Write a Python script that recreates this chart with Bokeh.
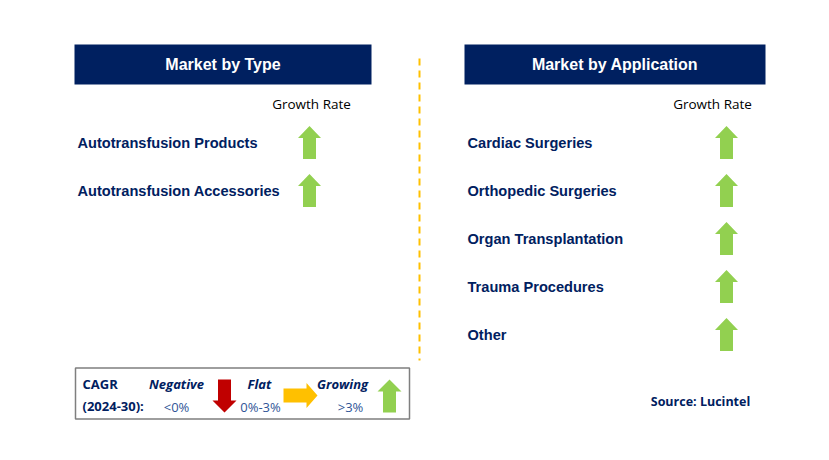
from bokeh.plotting import figure
from bokeh.models import Range1d
from bokeh.core.properties import value
from bokeh.embed import file_html
from bokeh.resources import INLINE

# ---- data ----
type_titles = ["Market by Type", "Market by Application"]
type_labels = ["Autotransfusion Products", "Autotransfusion Accessories"]
type_growth = ["up", "up"]
app_labels = ["Cardiac Surgeries", "Orthopedic Surgeries", "Organ Transplantation",
              "Trauma Procedures", "Other"]
app_growth = ["up", "up", "up", "up", "up"]
legend_names = ["Negative", "Flat", "Growing"]
legend_ranges = ["<0%", "0%-3%", ">3%"]
legend_dirs = ["down", "right", "up"]
source_text = "Source: Lucintel"

NAVY = "#002060"
COL = {"up": "#92D050", "down": "#C00000", "right": "#FFC000"}

W, H = 813, 444
p = figure(width=W, height=H, x_range=Range1d(0, W), y_range=Range1d(H, 0),
           output_backend="svg", toolbar_location=None, min_border=0)
p.axis.visible = False
p.grid.visible = False
p.outline_line_color = None
p.background_fill_color = "white"
p.border_fill_color = "white"


def arrow(cx, cy, d, L=33, Wd=23, sw=13, hh=12):
    t = -L / 2
    b = L / 2
    pts = [(0, t), (Wd / 2, t + hh), (sw / 2, t + hh), (sw / 2, b), (-sw / 2, b),
           (-sw / 2, t + hh), (-Wd / 2, t + hh)]
    if d == "down":
        pts = [(x, -y) for x, y in pts]
    elif d == "right":
        pts = [(-y, x) for x, y in pts]
    return [cx + x for x, y in pts], [cy + y for x, y in pts]


# headers
hx = [222.5, 614.5]
p.rect(x=hx, y=[64, 64], width=[297, 301], height=[40, 40], fill_color=NAVY, line_color=None)
p.text(x=hx, y=[64, 64], text=type_titles, text_color="white", text_font=value("Liberation Sans"),
       text_font_style="bold", text_font_size="16px", text_align="center", text_baseline="middle")

# divider
p.line(x=[419, 419], y=[58, 360], line_color="#FFC000", line_width=2, line_dash="7 5")

# growth rate headers
p.text(x=[311, 712], y=[103, 103], text=["Growth Rate", "Growth Rate"], text_color="black",
       text_font=value("Open Sans"), text_font_size="13.5px", text_align="center",
       text_baseline="middle")

ROW0, STEP = 142, 48


def section(labels, growth, lx, ax):
    ys = [ROW0 + i * STEP for i in range(len(labels))]
    p.text(x=[lx] * len(labels), y=ys, text=labels, text_color=NAVY,
           text_font=value("Liberation Sans"), text_font_style="bold", text_font_size="14.6px",
           text_align="left", text_baseline="middle")
    xs, yss, cs = [], [], []
    for g, y in zip(growth, ys):
        a, b = arrow(ax, y, g)
        xs.append(a); yss.append(b); cs.append(COL[g])
    p.patches(xs=xs, ys=yss, fill_color=cs, line_color=None)


section(type_labels, type_growth, 77, 309)
section(app_labels, app_growth, 467, 726)

# legend box
p.rect(x=[242], y=[393], width=[334], height=[51], fill_color=None, line_color="#7F7F7F",
       line_width=1.5)
p.text(x=[82, 82], y=[383, 405], text=["CAGR", "(2024-30):"], text_color=NAVY,
       text_font=value("Open Sans"), text_font_style="bold", text_font_size="13px",
       text_align="left", text_baseline="middle")
name_x = [176, 259, 342]
range_x = [176, 260, 350]
p.text(x=name_x, y=[383] * 3, text=legend_names, text_color=NAVY, text_font=value("Open Sans"),
       text_font_style="bold italic", text_font_size="13px", text_align="center",
       text_baseline="middle")
p.text(x=range_x, y=[406] * 3, text=legend_ranges, text_color="#2F5597",
       text_font=value("Open Sans"), text_font_size="13px", text_align="center",
       text_baseline="middle")
lx_arrows = [224, 300, 389]
lxs, lys, lcs = [], [], []
for d, x in zip(legend_dirs, lx_arrows):
    if d == "right":
        a, b = arrow(x, 395, d, L=34, Wd=25, sw=14, hh=11)
    else:
        a, b = arrow(x, 395.5, d, L=33, Wd=24, sw=13, hh=12)
    lxs.append(a); lys.append(b); lcs.append(COL[d])
p.patches(xs=lxs, ys=lys, fill_color=lcs, line_color=None)

# source
p.text(x=[700], y=[401], text=[source_text], text_color=NAVY, text_font=value("Open Sans"),
       text_font_style="bold", text_font_size="12.5px", text_align="center",
       text_baseline="middle")

open("out.html", "w").write(file_html(p, INLINE))
